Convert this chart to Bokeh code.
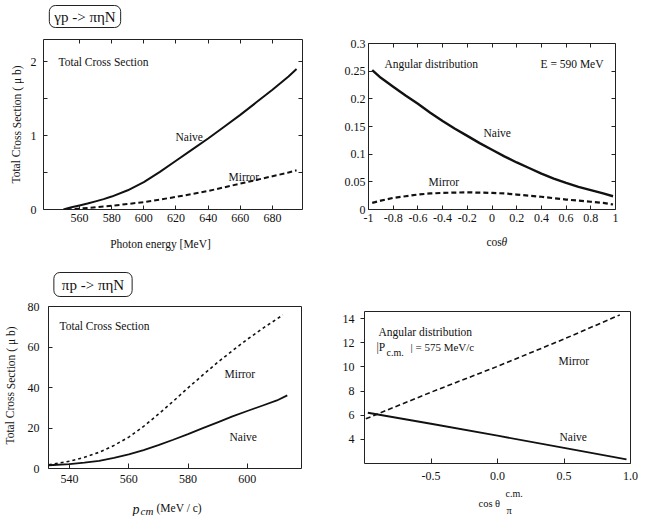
from bokeh.plotting import figure
from bokeh.models import Label, LinearAxis, FixedTicker, Range1d
from bokeh.layouts import column, row
from bokeh.embed import file_html
from bokeh.resources import INLINE

# ---------------- data ----------------
# Panel 1: gamma p -> pi eta N, total cross section (mu b) vs photon energy (MeV)
p1_e_naive = [550, 555, 560, 565, 570, 575, 580, 590, 600, 610, 620, 630, 640, 650, 660, 670, 680, 690, 695]
p1_s_naive = [0.0, 0.03, 0.055, 0.08, 0.11, 0.14, 0.175, 0.26, 0.37, 0.51, 0.66, 0.81, 0.96, 1.12, 1.28, 1.45, 1.62, 1.80, 1.90]
p1_e_mirror = [552, 560, 570, 580, 590, 600, 610, 620, 630, 640, 650, 660, 670, 680, 690, 695]
p1_s_mirror = [0.0, 0.012, 0.03, 0.05, 0.075, 0.10, 0.135, 0.17, 0.21, 0.25, 0.30, 0.35, 0.40, 0.45, 0.50, 0.53]

# Panel 2: angular distribution at E = 590 MeV
p2_cos = [-0.97, -0.9, -0.8, -0.7, -0.6, -0.5, -0.4, -0.3, -0.2, -0.1, 0.0, 0.1, 0.2, 0.3, 0.4, 0.5, 0.6, 0.7, 0.8, 0.9, 0.98]
p2_naive = [0.252, 0.238, 0.222, 0.206, 0.191, 0.175, 0.160, 0.146, 0.133, 0.120, 0.108, 0.096, 0.085, 0.075, 0.065, 0.056, 0.048, 0.041, 0.035, 0.029, 0.024]
p2_mirror = [0.012, 0.016, 0.021, 0.024, 0.027, 0.029, 0.030, 0.0305, 0.031, 0.0305, 0.030, 0.029, 0.027, 0.025, 0.023, 0.0205, 0.018, 0.016, 0.014, 0.012, 0.009]

# Panel 3: pi p -> pi eta N, total cross section vs p_cm (MeV/c)
p3_p_naive = [533, 540, 545, 550, 555, 560, 565, 570, 575, 580, 585, 590, 595, 600, 605, 610, 613.5]
p3_s_naive = [1.6, 2.2, 2.9, 3.8, 5.2, 7.0, 9.1, 11.5, 14.2, 17.0, 19.9, 22.8, 25.7, 28.4, 31.0, 33.6, 36.1]
p3_p_mirror = [533, 540, 545, 550, 555, 560, 565, 570, 575, 580, 585, 590, 595, 600, 605, 612]
p3_s_mirror = [1.8, 3.6, 5.5, 8.0, 11.4, 15.5, 20.8, 26.8, 33.2, 39.8, 46.2, 52.4, 58.2, 63.8, 69.0, 75.8]

# Panel 4: angular distribution at |P_cm| = 575 MeV/c
p4_cos_naive = [-0.975, -0.5, 0.0, 0.5, 0.97]
p4_naive = [6.2, 5.29, 4.3, 3.3, 2.35]
p4_cos_mirror = [-0.99, -0.5, 0.0, 0.5, 0.92]
p4_mirror = [5.7, 7.9, 10.04, 12.3, 14.3]

p1_xticks = [560, 580, 600, 620, 640, 660, 680]
p1_yticks = [0, 1, 2]
p1_yminor = [0.5, 1.5]
p2_xticks = [-1, -0.8, -0.6, -0.4, -0.2, 0, 0.2, 0.4, 0.6, 0.8, 1]
p2_xlabels = ["-1", "-0.8", "-0.6", "-0.4", "-0.2", "0", "0.2", "0.4", "0.6", "0.8", "1"]
p2_yticks = [0, 0.05, 0.1, 0.15, 0.2, 0.25, 0.3]
p2_ylabels = ["0", "0.05", "0.1", "0.15", "0.2", "0.25", "0.3"]
p3_xticks = [540, 560, 580, 600]
p3_yticks = [0, 20, 40, 60, 80]
p4_xticks = [-0.5, 0.0, 0.5, 1.0]
p4_xlabels = ["-0.5", "0.0", "0.5", "1.0"]
p4_yticks = [4, 6, 8, 10, 12, 14]

SERIF = "Liberation Serif"
INK = "#111111"


def make_fig(w, h, xr, yr, bl, br, bt, bb):
    p = figure(width=w, height=h, x_range=Range1d(start=xr[0], end=xr[1]),
               y_range=Range1d(start=yr[0], end=yr[1]), output_backend="svg",
               toolbar_location=None, tools="", min_border_left=bl,
               min_border_right=br, min_border_top=bt, min_border_bottom=bb)
    p.xgrid.visible = False
    p.ygrid.visible = False
    p.outline_line_color = "#222222"
    p.outline_line_width = 1
    p.outline_line_alpha = 1
    p.background_fill_color = "white"
    p.border_fill_color = "white"
    return p


def strip(w, h):
    s = figure(width=w, height=h, x_range=Range1d(start=0, end=w),
               y_range=Range1d(start=0, end=h), x_axis_type=None, y_axis_type=None,
               output_backend="svg", toolbar_location=None, tools="", min_border=0)
    s.outline_line_color = None
    s.background_fill_color = "white"
    s.border_fill_color = "white"
    return s


def style_axis(ax, ticks, minor=None, labels=None, tin=4, tout=0, standoff=5, show=True):
    ax.ticker = FixedTicker(ticks=ticks, minor_ticks=minor or [])
    ax.axis_line_color = None
    ax.major_tick_in = tin
    ax.major_tick_out = tout
    ax.minor_tick_in = tin
    ax.minor_tick_out = tout
    ax.major_tick_line_color = "#222222"
    ax.minor_tick_line_color = "#222222" if minor else None
    ax.major_label_text_font = SERIF
    if show:
        ax.major_label_text_font_size = "12px"
        ax.major_label_text_color = INK
        ax.major_label_standoff = standoff
        if labels is not None:
            ax.major_label_overrides = {t: s for t, s in zip(ticks, labels)}
    else:
        ax.major_label_text_color = None
        ax.major_label_text_font_size = "0px"
        ax.major_label_standoff = 0


def mirror_axes(p, xticks, yticks, xmax, ymax, yminor=None):
    top = LinearAxis(fixed_location=ymax)
    right = LinearAxis(fixed_location=xmax)
    p.add_layout(top, "above")
    p.add_layout(right, "right")
    style_axis(top, xticks, show=False)
    style_axis(right, yticks, minor=yminor, show=False)


def put(p, fl, fb, ax, ay, text, size="11.5px", align="left", baseline="alphabetic",
        style="normal", angle=0.0, **kw):
    # (ax, ay): position in page pixels; (fl, fb): page position of the
    # bottom-left corner of the figure's frame
    p.add_layout(Label(x=ax - fl, y=fb - ay, x_units="screen", y_units="screen",
                       text=text, text_font=SERIF, text_font_size=size,
                       text_align=align, text_baseline=baseline,
                       text_font_style=style, angle=angle, text_color=INK, **kw))


YLABEL = "Total Cross Section ( \u03bc b)"
BOX = dict(border_line_color="#222222", border_line_width=1,
           background_fill_color="white", border_radius=6)

# ---------------- panel 1 ----------------
p1 = make_fig(311, 199, (537.6, 698.7), (0, 2.3), 19, 33, 8, 21)
style_axis(p1.xaxis[0], p1_xticks, standoff=4)
style_axis(p1.yaxis[0], p1_yticks, minor=p1_yminor, standoff=7)
mirror_axes(p1, p1_xticks, p1_yticks, 698.7, 2.3, yminor=p1_yminor)
p1.line(p1_e_naive, p1_s_naive, line_color=INK, line_width=2)
p1.line(p1_e_mirror, p1_s_mirror, line_color=INK, line_width=2, line_dash="5 3")
F1 = (43, 209)
put(p1, *F1, 58, 61, "Total Cross Section")
put(p1, *F1, 175, 136, "Naive")
put(p1, *F1, 228, 176, "Mirror")

a1 = strip(335, 31)
put(a1, 0, 31, 84.5, 16, "\u03b3p -> \u03c0\u03b7N", size="15px", align="center",
    baseline="middle", padding=(5, 3), **BOX)
l1 = strip(24, 199)   # its frame is aligned with p1's frame (39..209)
put(l1, 0, 209, 16, 124, YLABEL, align="center", baseline="middle", angle=1.5707963)
b1 = strip(335, 25)
put(b1, 0, 255, 160, 243, "Photon energy [MeV]", align="center")

# ---------------- panel 2 ----------------
p2 = make_fig(319, 230, (-1, 1), (0, 0.3), 33, 39, 43, 21)
style_axis(p2.xaxis[0], p2_xticks, labels=p2_xlabels, standoff=4)
style_axis(p2.yaxis[0], p2_yticks, labels=p2_ylabels, standoff=3)
mirror_axes(p2, p2_xticks, p2_yticks, 1, 0.3)
p2.line(p2_cos, p2_naive, line_color=INK, line_width=2.4)
p2.line(p2_cos, p2_mirror, line_color=INK, line_width=2.2, line_dash="5 3")
F2 = (368, 209)
put(p2, *F2, 384, 63, "Angular distribution")
put(p2, *F2, 540, 63, "E = 590 MeV")
put(p2, *F2, 483, 132, "Naive")
put(p2, *F2, 428, 181, "Mirror")

b2 = strip(319, 25)   # its frame is aligned with p2's frame (x from 368)
put(b2, 368, 255, 486, 241, "cos")
put(b2, 368, 255, 501, 241, "\u03b8", style="italic")

# ---------------- panel 3 ----------------
p3 = make_fig(311, 192, (532.9, 618.3), (0, 80), 23, 34, 6, 24)
style_axis(p3.xaxis[0], p3_xticks, tin=5, standoff=6)
style_axis(p3.yaxis[0], p3_yticks, tin=4, standoff=9)
p3.line(p3_p_naive, p3_s_naive, line_color=INK, line_width=1.8)
p3.line(p3_p_mirror, p3_s_mirror, line_color=INK, line_width=1.6, line_dash="3 3")
F3 = (47, 468)
put(p3, *F3, 58, 325, "Total Cross Section")
put(p3, *F3, 223, 373, "Mirror")
put(p3, *F3, 228, 436, "Naive")

a3 = strip(335, 45)
put(a3, 0, 300, 92.5, 284, "\u03c0p -> \u03c0\u03b7N", size="15px", align="center",
    baseline="middle", padding=(8, 4), **BOX)
l3 = strip(24, 192)   # its frame is aligned with p3's frame (306..468)
put(l3, 0, 468, 10, 385, YLABEL, align="center", baseline="middle", angle=1.5707963)
b3 = strip(335, 24)
put(b3, 0, 516, 132, 509, "p", size="14px", style="italic")
put(b3, 0, 516, 140, 510, "cm", size="11px", style="italic")
put(b3, 0, 516, 156, 507, "(MeV  / c)", size="11.5px")

# ---------------- panel 4 ----------------
p4 = make_fig(319, 233, (-1.0, 1.0), (2.0, 14.58), 29, 24, 56, 25)
style_axis(p4.xaxis[0], p4_xticks, labels=p4_xlabels, tin=5, standoff=8)
style_axis(p4.yaxis[0], p4_yticks, tin=0, tout=4, standoff=6)
p4.line(p4_cos_naive, p4_naive, line_color=INK, line_width=1.8)
p4.line(p4_cos_mirror, p4_mirror, line_color=INK, line_width=1.6, line_dash="5 3")
F4 = (364, 463)
put(p4, *F4, 378, 331, "Angular distribution")
put(p4, *F4, 376, 346, "|P")
put(p4, *F4, 386, 352, "c.m.", size="10px")
put(p4, *F4, 410, 346, "| = 575 MeV/c", size="11px")
put(p4, *F4, 558, 360, "Mirror")
put(p4, *F4, 559, 436, "Naive")

b4 = strip(319, 28)   # its frame is aligned with p4's frame (x from 364)
put(b4, 364, 516, 478, 503, "cos \u03b8", size="10.5px")
put(b4, 364, 516, 505, 493, "c.m.", size="10px")
put(b4, 364, 516, 506, 510, "\u03c0", size="10.5px")

top_left = column(a1, row(l1, p1), b1)
top_right = column(p2, b2)
bottom_left = column(a3, row(l3, p3), b3)
bottom_right = column(p4, b4)
layout = column(row(top_left, top_right), row(bottom_left, bottom_right))

with open("out.html", "w") as f:
    f.write(file_html(layout, INLINE))
